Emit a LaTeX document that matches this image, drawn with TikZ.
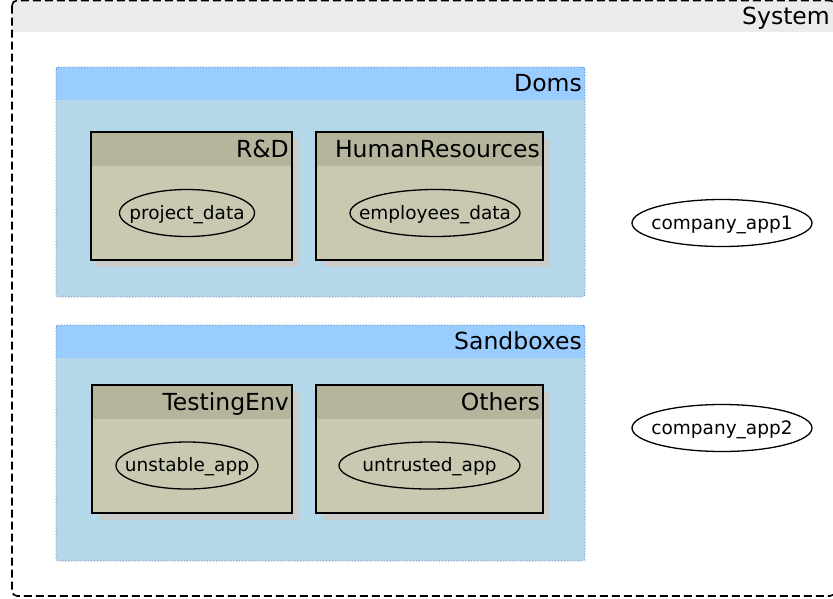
\documentclass[tikz,border=0pt]{standalone}
\usepackage{fontspec}
\setmainfont{DejaVu Sans}
\usetikzlibrary{positioning,shapes.geometric}

\definecolor{sysgray}{HTML}{EBEBEB}
\definecolor{grouphead}{HTML}{99CCFF}
\definecolor{groupbody}{HTML}{B4D8EA}
\definecolor{groupline}{HTML}{6A74A8}
\definecolor{domhead}{HTML}{B5B59D}
\definecolor{dombody}{HTML}{C9C9B2}
\definecolor{domshadow}{HTML}{CBCBCB}

\begin{document}
\begin{tikzpicture}[%
        x=1pt, y=-1pt,
        title/.style={%
          anchor=base east,
          inner sep=0pt,
          font=\fontsize{23.5}{23.5}\selectfont
        },
        app/.style={%
          inner sep=0pt,
          font=\fontsize{18.5}{18.5}\selectfont
        },
        ring/.style={%
          line width=1.3pt,
          y radius=23.5
        },
        groupbox/.style={%
          draw=groupline,
          line width=0.9pt,
          dash pattern=on 0.9pt off 2pt,
          rounded corners=3pt
        }
      ]
      \useasboundingbox (0,0) rectangle (833,598);
      % system
      \fill[sysgray] (12,0) rectangle (833,32);
      \draw[line width=1.6pt, dash pattern=on 8pt off 4pt, rounded corners=5pt]
        (12,0.5) rectangle (835,596);
      \node[title] (system) at (830,24.5) {System};
      % groups
      \foreach \name/\top/\bot/\txt in {doms/67/297/Doms, sandboxes/325/561/Sandboxes} {
        \fill[groupbody, rounded corners=3pt] (56,\top) rectangle (585,\bot);
        \fill[grouphead] (56,\top) rectangle (585,\top+33);
        \draw[groupbox] (56,\top) rectangle (585,\bot);
        \node[title] (\name) at (582,\top+24.5) {\txt};
      }
      % domains
      \foreach \name/\left/\right/\top/\txt in {rd/91/292/132/R\&D, hr/316/543/132/HumanResources,
          testing/92/292/385/TestingEnv, others/316/543/385/Others} {
        \fill[domshadow] (\left+7,\top+7) rectangle (\right+7,\top+135);
        \fill[dombody] (\left,\top) rectangle (\right,\top+128);
        \fill[domhead] (\left,\top) rectangle (\right,\top+34);
        \draw[line width=1.5pt] (\left,\top) rectangle (\right,\top+128);
        \node[title] (\name) at (\right-3,\top+25) {\txt};
      }
      % apps
      \node[app] (projectdata) at (187,214.5) {project\_data};
      \node[app] (employeesdata) at (435,214.5) {employees\_data};
      \node[app] (unstableapp) at (187,467) {unstable\_app};
      \node[app] (untrustedapp) at (429.5,467) {untrusted\_app};
      \node[app] (companyapp1) at (722,224.5) {company\_app1};
      \node[app] (companyapp2) at (722,429.5) {company\_app2};
      \foreach \app/\rx in {projectdata/67.5, employeesdata/85, unstableapp/71,
          untrustedapp/90.5, companyapp1/90, companyapp2/90}
        \draw[ring] ([yshift=1.5pt]\app.center) ellipse [x radius=\rx];
  \end{tikzpicture}
\end{document}
